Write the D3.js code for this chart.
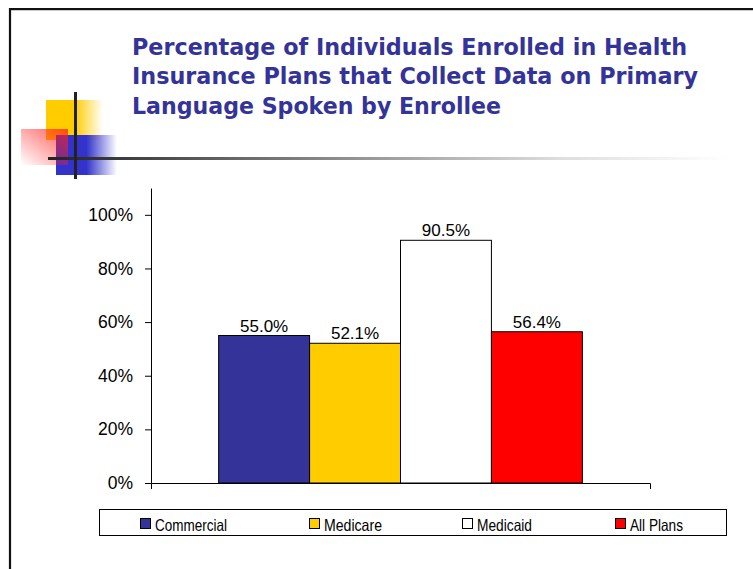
<!DOCTYPE html>
<html>
<head>
<meta charset="utf-8">
<script src="https://cdn.jsdelivr.net/npm/d3@7"></script>
<style>
  html, body { margin: 0; padding: 0; background: #fff; }
  svg { display: block; }
</style>
</head>
<body>
<script>
// ---- data ----
const titleLines = [
  "Percentage of Individuals Enrolled in Health",
  "Insurance Plans that Collect Data on Primary",
  "Language Spoken by Enrollee"
];
const series = ["Commercial", "Medicare", "Medicaid", "All Plans"];
const values = [55.0, 52.1, 90.5, 56.4];
const valueLabels = ["55.0%", "52.1%", "90.5%", "56.4%"];
const colors = ["#333399", "#FFCC00", "#FFFFFF", "#FF0000"];
const yTicks = [0, 20, 40, 60, 80, 100];
const yMax = 110;
const category = ["Group"];

// ---- layout ----
const W = 753, H = 569;
const svg = d3.select("body").append("svg").attr("width", W).attr("height", H);
const defs = svg.append("defs");

// page frame
svg.append("line").attr("x1", 9).attr("x2", W).attr("y1", 10.5).attr("y2", 10.5)
  .attr("stroke", "#c8c8c8").attr("stroke-width", 1.2);
svg.append("line").attr("x1", 9).attr("x2", W).attr("y1", 9).attr("y2", 9)
  .attr("stroke", "#111").attr("stroke-width", 2.2);
svg.append("line").attr("x1", 10).attr("x2", 10).attr("y1", 8).attr("y2", H)
  .attr("stroke", "#111").attr("stroke-width", 2.2);

// decoration gradients
function hgrad(id, color, stops) {
  const g = defs.append("linearGradient").attr("id", id)
    .attr("x1", 0).attr("y1", 0).attr("x2", 1).attr("y2", 0);
  stops.forEach(s => g.append("stop").attr("offset", s[0]).attr("stop-color", color).attr("stop-opacity", s[1]));
}
hgrad("gYellow", "#FFCC00", [[0, 1], [0.5, 1], [1, 0]]);
hgrad("gBlue", "#3333CC", [[0, 1], [0.5, 1], [1, 0]]);
const gr = defs.append("linearGradient").attr("id", "gRed")
  .attr("x1", 1).attr("y1", 0).attr("x2", 0).attr("y2", 1);
gr.append("stop").attr("offset", 0).attr("stop-color", "#FF2020").attr("stop-opacity", 0.75);
gr.append("stop").attr("offset", 1).attr("stop-color", "#FF2020").attr("stop-opacity", 0);
const gl = defs.append("linearGradient").attr("id", "gLine")
  .attr("x1", 0).attr("y1", 0).attr("x2", 1).attr("y2", 0);
gl.append("stop").attr("offset", 0).attr("stop-color", "#222");
gl.append("stop").attr("offset", 0.75).attr("stop-color", "#ddd");
gl.append("stop").attr("offset", 1).attr("stop-color", "#fff");

const deco = svg.append("g");
deco.append("rect").attr("x", 46).attr("y", 100).attr("width", 57).attr("height", 40).attr("fill", "url(#gYellow)");
deco.append("rect").attr("x", 56).attr("y", 135).attr("width", 61).attr("height", 40).attr("fill", "url(#gBlue)");
deco.append("rect").attr("x", 21).attr("y", 129).attr("width", 47).attr("height", 36).attr("fill", "url(#gRed)");
deco.append("rect").attr("x", 48).attr("y", 157).attr("width", 680).attr("height", 3).attr("fill", "url(#gLine)");
deco.append("rect").attr("x", 74).attr("y", 92).attr("width", 3).attr("height", 87).attr("fill", "#222");

// title
const title = svg.append("g");
const titleWidths = [555, 566, 369];
titleLines.forEach((t, i) => {
  title.append("text")
    .attr("x", 132).attr("y", 54.5 + i * 29.5)
    .attr("font-family", "'DejaVu Sans', Verdana, sans-serif")
    .attr("font-weight", "bold")
    .attr("font-size", 23.5)
    .attr("fill", "#333399")
    .attr("textLength", titleWidths[i])
    .attr("lengthAdjust", "spacingAndGlyphs")
    .text(t);
});

// chart
const plot = { left: 151, right: 650, top: 188, bottom: 483 };
const y = d3.scaleLinear().domain([0, yMax]).range([plot.bottom, plot.top]);
const x0 = d3.scaleBand().domain(category).range([plot.left, plot.right]).paddingOuter(0.186).paddingInner(0);
const x1 = d3.scaleBand().domain(series).range([0, x0.bandwidth()]).padding(0);

const g = svg.append("g");

const bars = g.append("g").attr("transform", `translate(${x0(category[0])},0)`);
bars.selectAll("rect").data(series).join("rect")
  .attr("x", d => x1(d))
  .attr("y", (d, i) => y(values[i]))
  .attr("width", x1.bandwidth())
  .attr("height", (d, i) => y(0) - y(values[i]))
  .attr("fill", (d, i) => colors[i])
  .attr("stroke", "#000").attr("stroke-width", 1);

bars.selectAll("text").data(series).join("text")
  .attr("x", d => x1(d) + x1.bandwidth() / 2)
  .attr("y", (d, i) => y(values[i]) - 4)
  .attr("text-anchor", "middle")
  .attr("font-family", "Arial, 'Liberation Sans', sans-serif")
  .attr("font-size", 17)
  .attr("fill", "#000")
  .text((d, i) => valueLabels[i]);

// y axis
const yAxis = g.append("g").attr("transform", `translate(${plot.left},0)`)
  .call(d3.axisLeft(y).tickValues(yTicks).tickSize(6).tickSizeOuter(0).tickPadding(12)
    .tickFormat(d => d + "%"));
yAxis.selectAll("text").attr("font-family", "Arial, 'Liberation Sans', sans-serif").attr("font-size", 17.5).attr("fill", "#000");
yAxis.selectAll("line,path").attr("stroke", "#000");

// x axis
const xAxis = g.append("g").attr("transform", `translate(0,${plot.bottom})`)
  .call(d3.axisBottom(d3.scaleBand().domain(category).range([plot.left, plot.right]))
    .tickSize(0).tickSizeOuter(6).tickFormat(""));
xAxis.selectAll("line,path").attr("stroke", "#000");

// legend
const legend = svg.append("g");
legend.append("rect").attr("x", 99.5).attr("y", 509.5).attr("width", 627).attr("height", 26)
  .attr("fill", "#fff").attr("stroke", "#000").attr("stroke-width", 1);
const legX = [140, 309, 462, 615];
const legW = [72, 58, 55, 53];
series.forEach((s, i) => {
  legend.append("rect").attr("x", legX[i] + 0.5).attr("y", 518.5).attr("width", 10).attr("height", 10)
    .attr("fill", colors[i]).attr("stroke", "#000").attr("stroke-width", 1);
  legend.append("text").attr("x", legX[i] + 15).attr("y", 530.5)
    .attr("font-family", "Arial, 'Liberation Sans', sans-serif")
    .attr("font-size", 16.5)
    .attr("textLength", legW[i]).attr("lengthAdjust", "spacingAndGlyphs")
    .attr("fill", "#000")
    .text(s);
});
</script>
</body>
</html>
